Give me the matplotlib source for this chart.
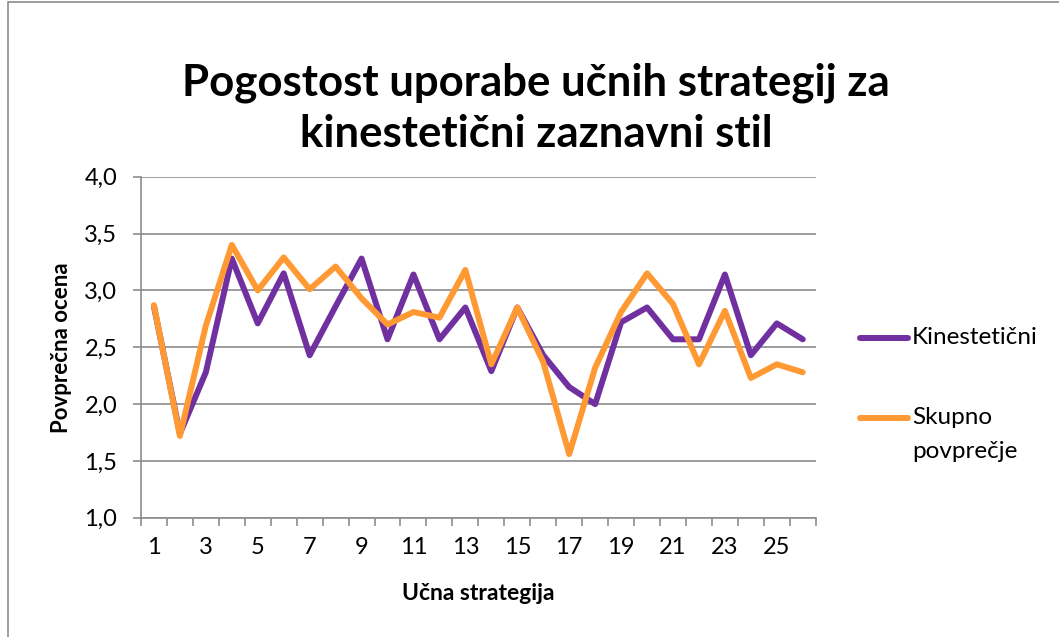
import matplotlib
matplotlib.use("Agg")
import matplotlib.pyplot as plt
from matplotlib.lines import Line2D
from matplotlib.patches import Rectangle
from matplotlib.ticker import FixedLocator, FuncFormatter

# data
strategije = list(range(1, 27))
kinestetic = [2.86, 1.74, 2.28, 3.28, 2.71, 3.15, 2.43, 2.86, 3.28, 2.57,
              3.14, 2.57, 2.85, 2.29, 2.85, 2.43, 2.15, 2.00, 2.72, 2.85,
              2.57, 2.57, 3.14, 2.43, 2.71, 2.57]
skupno = [2.87, 1.72, 2.69, 3.40, 3.00, 3.29, 3.01, 3.21, 2.93, 2.70,
          2.81, 2.76, 3.18, 2.35, 2.85, 2.37, 1.56, 2.32, 2.81, 3.15,
          2.88, 2.35, 2.82, 2.23, 2.35, 2.28]
y_ticks = [1.0, 1.5, 2.0, 2.5, 3.0, 3.5, 4.0]

VIJOLICNA = "#7030a0"
ORANZNA = "#ff9933"
SIVA = "#8c8c8c"

plt.rcParams['font.family'] = ['Lato', 'DejaVu Sans']

fig = plt.figure(figsize=(10.59, 6.37), dpi=100)
ax = fig.add_axes([0.1331, 0.1871, 0.6372, 0.5355])

# okvir grafa
fig.patches.append(Rectangle((8 / 1059, -0.01), 1.05, 1 - 2 / 637 + 0.01,
                             transform=fig.transFigure, fill=False,
                             edgecolor=SIVA, linewidth=1.2))

ax.plot(strategije, kinestetic, color=VIJOLICNA, linewidth=4.3,
        solid_joinstyle="round", solid_capstyle="round")
ax.plot(strategije, skupno, color=ORANZNA, linewidth=4.3,
        solid_joinstyle="round", solid_capstyle="round")

ax.set_xlim(0.5, 26.5)
ax.set_ylim(1.0, 4.0)
ax.set_yticks(y_ticks)
ax.yaxis.set_major_formatter(FuncFormatter(lambda v, p: f"{v:.1f}".replace(".", ",")))
ax.set_xticks(strategije[::2])
ax.xaxis.set_minor_locator(FixedLocator([i + 0.5 for i in range(0, 27)]))
ax.tick_params(axis="x", which="major", length=0, labelsize=17, pad=14)
ax.tick_params(axis="x", which="minor", length=6, color=SIVA, width=1.2)
ax.tick_params(axis="y", length=6, color=SIVA, width=1.2, labelsize=17, pad=11)

ax.grid(axis="y", color=SIVA, linewidth=1.2)
ax.set_axisbelow(True)
for s in ["top", "right"]:
    ax.spines[s].set_visible(False)
for s in ["left", "bottom"]:
    ax.spines[s].set_color(SIVA)
    ax.spines[s].set_linewidth(1.2)

ax.set_xlabel("Učna strategija", fontsize=16.5, fontweight="bold", labelpad=18)
ax.set_ylabel("Povprečna ocena", fontsize=16, fontweight="bold", labelpad=9)

fig.text(0.506, 0.830, "Pogostost uporabe učnih strategij za\nkinestetični zaznavni stil",
         ha="center", va="center", fontsize=31.5, fontweight="bold", linespacing=1.35)

# legenda (ročno, da je črta poravnana s prvo vrstico)
def px(x, y):
    return x / 1059, 1 - y / 637

for barva, y, besedilo in [(VIJOLICNA, 338, ["Kinestetični"]),
                           (ORANZNA, 418, ["Skupno", "povprečje"])]:
    x0, y0 = px(860, y)
    x1, _ = px(908, y)
    fig.add_artist(Line2D([x0, x1], [y0, y0], color=barva, linewidth=4.3,
                          solid_capstyle="round", transform=fig.transFigure))
    for i, vrstica in enumerate(besedilo):
        tx, ty = px(912, y + 34 * i)
        fig.text(tx, ty, vrstica, ha="left", va="center", fontsize=17.5)

plt.savefig("out.png", dpi=100)
plt.close()
